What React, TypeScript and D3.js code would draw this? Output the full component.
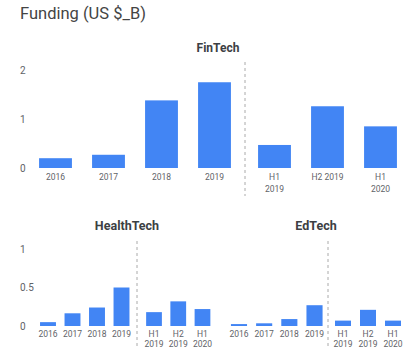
import React from "react";
import * as d3 from "d3";

const finYears = ["2016", "2017", "2018", "2019"];
const finYearValues = [0.2, 0.27, 1.38, 1.75];
const finHalves = ["H1|2019", "H2 2019", "H1|2020"];
const finHalfValues = [0.47, 1.26, 0.85];

const healthYears = ["2016", "2017", "2018", "2019"];
const healthYearValues = [0.05, 0.165, 0.24, 0.5];
const healthHalves = ["H1|2019", "H2|2019", "H1|2020"];
const healthHalfValues = [0.18, 0.32, 0.22];

const edYears = ["2016", "2017", "2018", "2019"];
const edYearValues = [0.025, 0.035, 0.09, 0.27];
const edHalves = ["H1|2019", "H2|2019", "H1|2020"];
const edHalfValues = [0.07, 0.21, 0.07];

const finTicks = [0, 1, 2];
const bottomTicks = [0, 0.5, 1];

const BLUE = "#4285f4";
const LABEL = "#5f6368";
const FONT = "Roboto, 'Noto Sans', sans-serif";

type GroupProps = {
  labels: string[];
  values: number[];
  range: [number, number];
  y: d3.ScaleLinear<number, number>;
  pad: number;
  labelY: number;
  lineH: number;
  fs: number;
};

function Group({ labels, values, range, y, pad, labelY, lineH, fs }: GroupProps) {
  const x = d3.scaleBand<string>().domain(labels).range(range).paddingInner(pad).paddingOuter(pad / 2);
  return (
    <g>
      {labels.map((l, i) => (
        <rect
          key={"r" + l}
          x={x(l)!}
          y={y(values[i])}
          width={x.bandwidth()}
          height={y(0) - y(values[i])}
          fill={BLUE}
        />
      ))}
      {labels.map((l) => (
        <text
          key={"t" + l}
          x={x(l)! + x.bandwidth() / 2}
          y={labelY}
          textAnchor="middle"
          fontSize={fs}
          fill={LABEL}
          fontFamily={FONT}
        >
          {l.split("|").map((p, j) => (
            <tspan key={j} x={x(l)! + x.bandwidth() / 2} dy={j === 0 ? 0 : lineH}>
              {p}
            </tspan>
          ))}
        </text>
      ))}
    </g>
  );
}

export default function App() {
  const yFin = d3.scaleLinear().domain([0, 2]).range([168, 70]);
  const yBot = d3.scaleLinear().domain([0, 1]).range([326, 249]);

  return (
    <svg width={416} height={357} style={{ position: "absolute", left: 0, top: 0, background: "#fff" }}>
      <text x={20} y={19} fontSize={16.5} fill="#444" fontFamily={FONT}>
        Funding (US $_B)
      </text>

      {/* FinTech */}
      <text x={218} y={52} textAnchor="middle" fontSize={12} fontWeight="bold" fill="#3c4043" fontFamily={FONT}>
        FinTech
      </text>
      {finTicks.map((t) => (
        <text key={t} x={20} y={yFin(t) + 3.5} fontSize={10} fill={LABEL} fontFamily={FONT}>
          {t}
        </text>
      ))}
      <line x1={245} x2={245} y1={62} y2={196} stroke="#aaa" strokeDasharray="3,3" strokeWidth={1} />
      <Group labels={finYears} values={finYearValues} range={[29, 241]} y={yFin} pad={0.38} labelY={180} lineH={12} fs={8.5} />
      <Group labels={finHalves} values={finHalfValues} range={[248, 407]} y={yFin} pad={0.38} labelY={180} lineH={12} fs={8.5} />

      {/* HealthTech */}
      <text x={127} y={230} textAnchor="middle" fontSize={12.5} fontWeight="bold" fill="#3c4043" fontFamily={FONT}>
        HealthTech
      </text>
      {bottomTicks.map((t) => (
        <text key={t} x={20} y={yBot(t) + 3.5} fontSize={10} fill={LABEL} fontFamily={FONT}>
          {t}
        </text>
      ))}
      <line x1={137} x2={137} y1={241} y2={348} stroke="#aaa" strokeDasharray="3,3" strokeWidth={1} />
      <Group labels={healthYears} values={healthYearValues} range={[35.75, 133.75]} y={yBot} pad={0.35} labelY={337} lineH={10} fs={8.5} />
      <Group labels={healthHalves} values={healthHalfValues} range={[141.9, 214.6]} y={yBot} pad={0.35} labelY={337} lineH={10} fs={8.5} />

      {/* EdTech */}
      <text x={316} y={230} textAnchor="middle" fontSize={12.5} fontWeight="bold" fill="#3c4043" fontFamily={FONT}>
        EdTech
      </text>
      <line x1={328} x2={328} y1={241} y2={348} stroke="#aaa" strokeDasharray="3,3" strokeWidth={1} />
      <Group labels={edYears} values={edYearValues} range={[226.4, 327.1]} y={yBot} pad={0.36} labelY={337} lineH={10} fs={8.5} />
      <Group labels={edHalves} values={edHalfValues} range={[330.5, 405.5]} y={yBot} pad={0.36} labelY={337} lineH={10} fs={8.5} />
    </svg>
  );
}
